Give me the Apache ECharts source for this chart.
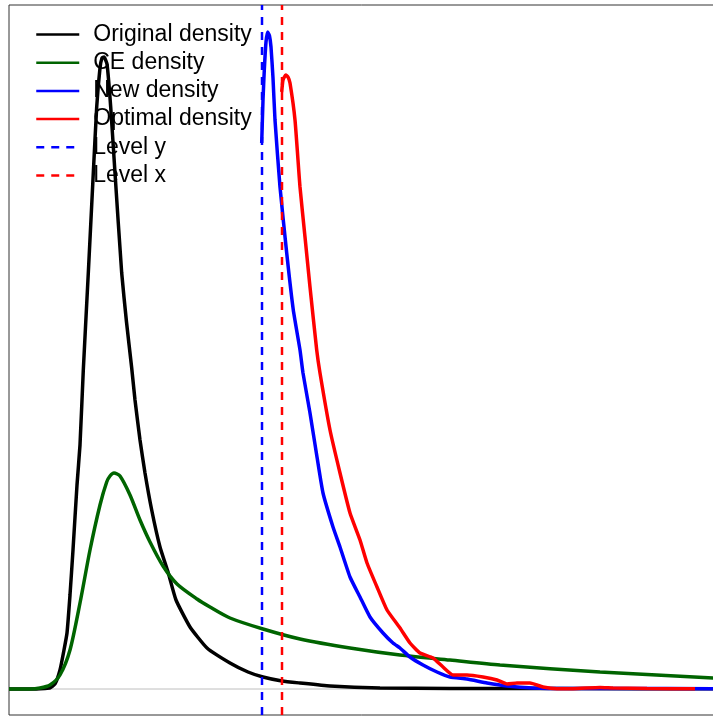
<!DOCTYPE html>
<html>
<head>
<meta charset="utf-8">
<script src="https://cdn.jsdelivr.net/npm/echarts@6/dist/echarts.min.js"></script>
<style>html,body{margin:0;padding:0;background:#fff;}#c{width:713px;height:716px;}</style>
</head>
<body>
<div id="c"></div>
<script>
// Series names (legend)
var seriesNames = ['Original density', 'CE density', 'New density', 'Optimal density', 'Level y', 'Level x'];

// Original density
var origX = [0, 0.21, 0.36, 0.41, 0.46, 0.51, 0.55, 0.58, 0.61, 0.64, 0.68, 0.71, 0.743, 0.793, 0.843, 0.877, 0.91, 0.93, 0.95, 0.98, 1.017, 1.06, 1.127, 1.175, 1.227, 1.26, 1.31, 1.36, 1.427, 1.51, 1.593, 1.67, 1.81, 1.98, 2.21, 2.39, 2.54, 2.73, 2.91, 3.21, 3.71, 4.41, 5.5, 7.11];
var origY = [0, 0, 0.005, 0.01, 0.05, 0.19, 0.39, 0.56, 0.94, 1.39, 2.04, 2.44, 3.19, 4.16, 5.16, 5.82, 6.21, 6.31, 6.32, 6.25, 5.82, 5.16, 4.16, 3.67, 3.21, 2.89, 2.49, 2.16, 1.79, 1.42, 1.16, 0.89, 0.62, 0.41, 0.26, 0.17, 0.12, 0.08, 0.06, 0.03, 0.01, 0.006, 0.004, 0.003];

// CE density
var ceX = [0, 0.21, 0.31, 0.41, 0.51, 0.61, 0.71, 0.81, 0.91, 0.977, 1.01, 1.05, 1.11, 1.21, 1.31, 1.41, 1.54, 1.68, 1.88, 2.01, 2.21, 2.54, 2.91, 3.41, 3.91, 4.41, 4.91, 5.91, 7.04, 7.11];
var ceY = [0, 0, 0.01, 0.04, 0.14, 0.39, 0.86, 1.39, 1.84, 2.07, 2.13, 2.16, 2.13, 1.94, 1.69, 1.47, 1.23, 1.05, 0.90, 0.82, 0.71, 0.60, 0.50, 0.41, 0.34, 0.29, 0.24, 0.17, 0.11, 0.105];

// New density
var newX = [2.527, 2.54, 2.553, 2.57, 2.587, 2.605, 2.62, 2.64, 2.66, 2.71, 2.777, 2.843, 2.91, 2.94, 3.01, 3.08, 3.14, 3.24, 3.31, 3.41, 3.51, 3.61, 3.74, 3.84, 3.91, 4.01, 4.14, 4.28, 4.41, 4.58, 4.78, 4.98, 5.24, 5.58, 6.11, 7.04, 7.11];
var newY = [5.46, 5.89, 6.19, 6.47, 6.57, 6.53, 6.42, 6.11, 5.69, 5.02, 4.36, 3.79, 3.39, 3.16, 2.76, 2.32, 1.96, 1.62, 1.42, 1.12, 0.92, 0.72, 0.56, 0.46, 0.41, 0.32, 0.24, 0.17, 0.12, 0.10, 0.06, 0.03, 0.01, 0.004, 0.005, 0.003, 0.003];

// Optimal density
var optX = [2.727, 2.74, 2.767, 2.79, 2.81, 2.86, 2.91, 2.96, 3.01, 3.077, 3.11, 3.21, 3.31, 3.41, 3.51, 3.58, 3.68, 3.78, 3.91, 4.01, 4.11, 4.24, 4.34, 4.44, 4.58, 4.74, 4.88, 4.98, 5.08, 5.21, 5.34, 5.48, 5.64, 5.91, 6.04, 6.38, 6.86];
var optY = [5.97, 6.09, 6.14, 6.12, 6.06, 5.69, 5.02, 4.52, 4.02, 3.39, 3.16, 2.59, 2.16, 1.76, 1.49, 1.26, 1.02, 0.79, 0.61, 0.46, 0.36, 0.31, 0.22, 0.14, 0.14, 0.12, 0.09, 0.05, 0.06, 0.06, 0.02, 0.003, 0.003, 0.015, 0.01, 0.004, 0.003];

// Levels
var levelY = 2.53;
var levelX = 2.73;

// Axis ranges
var xRange = [0, 7.11];
var yRange = [-0.26, 6.84];

function zip(xs, ys) { return xs.map(function (x, i) { return [x, ys[i]]; }); }

var chart = echarts.init(document.getElementById('c'), null, {renderer: 'canvas'});
var lineCommon = {type: 'line', symbol: 'none', silent: true, animation: false};
chart.setOption({
  animation: false,
  backgroundColor: '#fff',
  grid: {left: 9, top: 5, width: 711, height: 710, outerBoundsMode: 'none', containLabel: false, show: true, borderColor: '#333', borderWidth: 1, backgroundColor: 'transparent'},
  xAxis: {type: 'value', min: xRange[0], max: xRange[1], show: false},
  yAxis: {type: 'value', min: yRange[0], max: yRange[1], show: false},
  legend: {
    orient: 'vertical', left: 30, top: 18, itemWidth: 43, itemHeight: 14, itemGap: 5.2,
    data: seriesNames,
    itemStyle: {opacity: 0},
    lineStyle: {width: 2.5},
    textStyle: {fontFamily: 'Liberation Sans', fontSize: 23, color: '#000', lineHeight: 22, padding: [0, 0, 0, 9]},
    selectedMode: false
  },
  series: [
    Object.assign({}, lineCommon, {name: '_zero', data: [[xRange[0], 0], [xRange[1], 0]], lineStyle: {color: '#bebebe', width: 1}, z: 1}),
    Object.assign({}, lineCommon, {name: seriesNames[0], data: zip(origX, origY), lineStyle: {color: '#000000', width: 3.5}, itemStyle: {color: '#000000'}, smooth: 0.15}),
    Object.assign({}, lineCommon, {name: seriesNames[1], data: zip(ceX, ceY), lineStyle: {color: '#006400', width: 3.5}, itemStyle: {color: '#006400'}, smooth: 0.25}),
    Object.assign({}, lineCommon, {name: seriesNames[2], data: zip(newX, newY), lineStyle: {color: '#0000ff', width: 3.5}, itemStyle: {color: '#0000ff'}, smooth: 0.15}),
    Object.assign({}, lineCommon, {name: seriesNames[3], data: zip(optX, optY), lineStyle: {color: '#ff0000', width: 3.5}, itemStyle: {color: '#ff0000'}, smooth: 0.15}),
    Object.assign({}, lineCommon, {name: seriesNames[4], data: [[levelY, yRange[0]], [levelY, yRange[1]]], lineStyle: {color: '#0000ff', width: 2.5, type: [8, 7]}, itemStyle: {color: '#0000ff'}}),
    Object.assign({}, lineCommon, {name: seriesNames[5], data: [[levelX, yRange[0]], [levelX, yRange[1]]], lineStyle: {color: '#ff0000', width: 2.5, type: [8, 7]}, itemStyle: {color: '#ff0000'}})
  ]
});
</script>
</body>
</html>
